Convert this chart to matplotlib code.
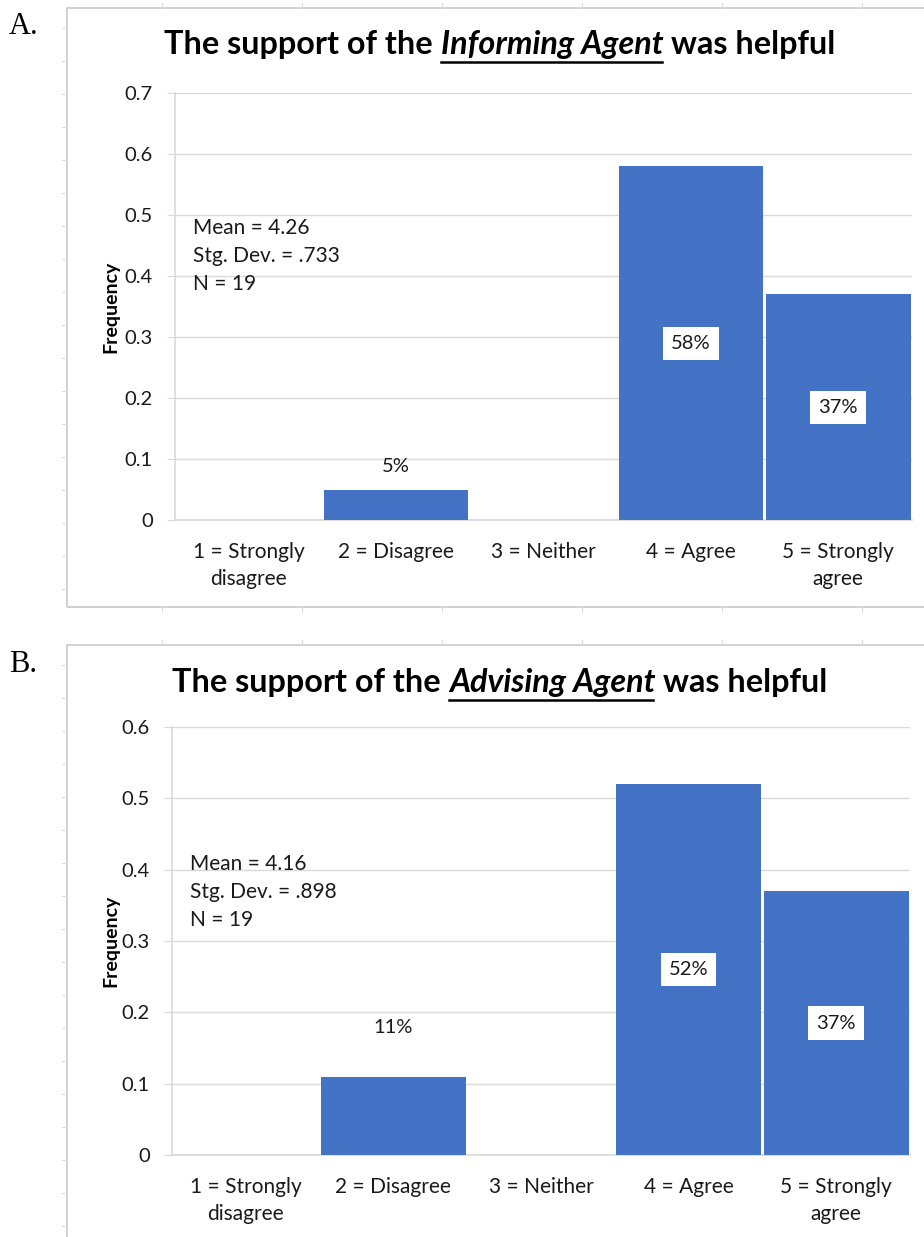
import matplotlib
matplotlib.use('Agg')
import matplotlib.pyplot as plt
from matplotlib.patches import Rectangle
from matplotlib.lines import Line2D

# Likert answers and the share of respondents per answer
categories = ['1 = Strongly\ndisagree', '2 = Disagree', '3 = Neither',
              '4 = Agree', '5 = Strongly\nagree']
informing_freq = [0, 0.05, 0, 0.58, 0.37]
advising_freq = [0, 0.11, 0, 0.52, 0.37]
informing_stats = ['Mean = 4.26', 'Stg. Dev. = .733', 'N = 19']
advising_stats = ['Mean = 4.16', 'Stg. Dev. = .898', 'N = 19']
informing_ticks = [0, 0.1, 0.2, 0.3, 0.4, 0.5, 0.6, 0.7]
advising_ticks = [0, 0.1, 0.2, 0.3, 0.4, 0.5, 0.6]

W, H = 924, 1237
BLUE = '#4472C4'
GRID = '#d9d9d9'
TEXT = '#1a1a1a'
FS = 14.5

plt.rcParams['font.family'] = ['Lato', 'DejaVu Sans']
fig = plt.figure(figsize=(W / 100, H / 100), dpi=100)


def fx(px):
    return px / W


def fy(py):
    return 1 - py / H


def draw_title(cx, y, parts, size):
    r = fig.canvas.get_renderer()
    texts = []
    for s, style in parts:
        t = fig.text(0, fy(y), s, fontsize=size, fontweight='bold',
                     fontstyle=style, va='baseline', ha='left', color='black')
        texts.append(t)
    widths = [t.get_window_extent(r).width for t in texts]
    a = fig.text(0, 0, 'x x', fontsize=size, fontweight='bold')
    b = fig.text(0, 0, 'xx', fontsize=size, fontweight='bold')
    gap = a.get_window_extent(r).width - b.get_window_extent(r).width
    a.remove()
    b.remove()
    x = cx - (sum(widths) + gap * (len(texts) - 1)) / 2
    for t, w, (s, style) in zip(texts, widths, parts):
        t.set_x(fx(x))
        if style == 'italic':
            fig.add_artist(Line2D([fx(x), fx(x + w - 2)], [fy(y + 8)] * 2,
                                  color='black', lw=1.8))
        x += w + gap


def draw_panel(frame, box, letter, letter_y, title_parts, title_y, values,
               ticks, stats, stats_xy, above_px):
    l, t, r, b = frame
    fig.add_artist(Rectangle((fx(l), fy(b)), fx(r) - fx(l), fy(t) - fy(b),
                             fill=False, edgecolor='#c9c9c9', lw=1.2))
    # faint sheet gridline stubs around the chart frame
    for yy in range(t + 20, b, 33):
        fig.add_artist(Line2D([fx(l - 5), fx(l)], [fy(yy)] * 2,
                              color='#dcdcdc', lw=0.8))
    for xx in range(l + 95, r, 140):
        fig.add_artist(Line2D([fx(xx)] * 2, [fy(t - 5), fy(t)],
                              color='#dcdcdc', lw=0.8))
        fig.add_artist(Line2D([fx(xx)] * 2, [fy(b), fy(b + 5)],
                              color='#dcdcdc', lw=0.8))

    fig.text(fx(9), fy(letter_y), letter, fontsize=22,
             family='Liberation Serif', va='center', ha='left')

    draw_title(500, title_y, title_parts, 23.3)

    bl, bt, br, bb = box
    ax = fig.add_axes([fx(bl), fy(bb), fx(br) - fx(bl), fy(bt) - fy(bb)])
    x = list(range(len(categories)))
    ax.bar(x, values, width=0.98, color=BLUE, zorder=3)
    ax.set_xlim(-0.5, len(categories) - 0.5)
    ax.set_ylim(0, ticks[-1])
    ax.set_yticks(ticks)
    ax.set_yticklabels(['0' if v == 0 else f'{v:.1f}' for v in ticks])
    ax.set_xticks(x)
    ax.set_xticklabels(categories, linespacing=1.45)
    ax.grid(axis='y', color=GRID, lw=1, zorder=0)
    for side in ['top', 'right']:
        ax.spines[side].set_visible(False)
    for side in ['left', 'bottom']:
        ax.spines[side].set_color(GRID)
        ax.spines[side].set_linewidth(1.2)
    ax.tick_params(axis='y', length=6, color=GRID, labelsize=FS,
                   labelcolor=TEXT, pad=10)
    ax.tick_params(axis='x', length=0, labelsize=FS + 0.5, labelcolor=TEXT,
                   pad=16)
    ax.set_ylabel('Frequency', fontsize=14, fontweight='bold', color='black')
    ax.yaxis.set_label_coords((119 - bl) / (br - bl), 0.5)

    for i, v in enumerate(values):
        if v == 0:
            continue
        label = f'{round(v * 100)}%'
        if v > 0.2:
            ax.text(i, v / 2, label, ha='center', va='center', fontsize=FS,
                    color=TEXT, zorder=4,
                    bbox=dict(boxstyle='square,pad=0.4', fc='white', ec='none'))
        else:
            ax.annotate(label, (i, v), xytext=(0, above_px * 0.72),
                        textcoords='offset points', ha='center', va='center',
                        fontsize=FS, color=TEXT)

    sx, sy = stats_xy
    for k, line in enumerate(stats):
        fig.text(fx(sx), fy(sy + 28 * k), line, fontsize=FS + 0.5, color=TEXT,
                 va='center', ha='left')
    return ax


draw_panel((67, 8, 930, 607), (175, 93, 912, 520), 'A.', 26,
           [('The support of the', 'normal'),
            ('Informing Agent', 'italic'),
            ('was helpful', 'normal')],
           54, informing_freq, informing_ticks, informing_stats, (193, 228), 23)

draw_panel((67, 645, 930, 1245), (172, 727, 910, 1155), 'B.', 664,
           [('The support of the', 'normal'),
            ('Advising Agent', 'italic'),
            ('was helpful', 'normal')],
           692, advising_freq, advising_ticks, advising_stats, (190, 864), 49)

fig.savefig('out.png', dpi=100)
